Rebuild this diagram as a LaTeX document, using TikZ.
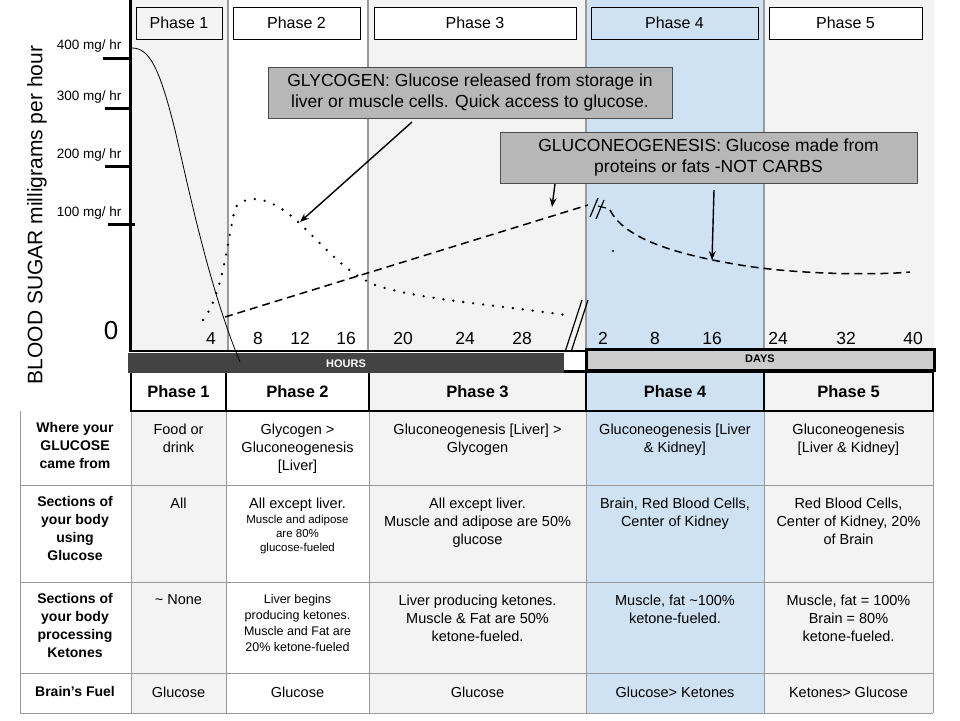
\documentclass[tikz,border=0pt]{standalone}
\usepackage{fontspec}
\setmainfont{Liberation Sans}
\usetikzlibrary{arrows.meta}
\definecolor{lg}{HTML}{F3F3F3}
\definecolor{lb}{HTML}{CFE2F3}
\definecolor{bx}{HTML}{B7B7B7}
\definecolor{dk}{HTML}{434343}
\definecolor{gl}{HTML}{999999}
\begin{document}
\begin{tikzpicture}[x=1pt,y=-1pt,
  ph/.style={draw=black,line width=0.8pt,minimum height=32pt,font=\fontsize{16}{16}\selectfont},
  cell/.style={align=center,anchor=north,font=\fontsize{14.5}{18}\selectfont},
  small/.style={align=center,anchor=north,font=\fontsize{12.5}{16}\selectfont},
  rowh/.style={align=center,anchor=north,font=\bfseries\fontsize{14}{18}\selectfont},
  hd/.style={font=\bfseries\fontsize{16.5}{16}\selectfont},
  note/.style={draw=black!70,fill=bx,align=center,font=\fontsize{17.5}{21}\selectfont,inner sep=4pt},
  arr/.style={-{Stealth[length=9pt,width=7pt]},line width=1.4pt},
  xt/.style={font=\fontsize{17.5}{17}\selectfont},
  yt/.style={font=\fontsize{13.5}{13}\selectfont,anchor=east}]
\useasboundingbox (0,0) rectangle (960,720);
\fill[white] (0,0) rectangle (960,720);
% chart backgrounds
\fill[lg] (130,0) rectangle (934,350);
\fill[white] (228,0) rectangle (368,350);
\fill[lb] (586,0) rectangle (764,350);
\foreach \x in {228,368,586,764} \draw[gl,line width=1.2pt] (\x,0) -- (\x,350);
% phase boxes
\node[ph,fill=lg,minimum width=86pt] (p1) at (179,23) {Phase 1};
\node[ph,fill=white,minimum width=127pt] (p2) at (296.5,23) {Phase 2};
\node[ph,fill=white,minimum width=202pt] (p3) at (475,23) {Phase 3};
\node[ph,fill=lb,minimum width=167pt] (p4) at (674.5,23) {Phase 4};
\node[ph,fill=white,minimum width=153pt] (p5) at (845.5,23) {Phase 5};
% table backgrounds
\fill[lg] (131,411) rectangle (226,713);
\fill[lg] (369,372) rectangle (586,713);
\fill[lb] (586,372) rectangle (764,713);
\fill[lg] (764,372) rectangle (933,713);
\foreach \y in {485,582,673,713} \draw[gl,line width=0.8pt] (20,\y) -- (933,\y);
\foreach \x in {131,226,369,586,764,933} \draw[gl,line width=0.8pt] (\x,411) -- (\x,713);
\draw[gl,line width=0.8pt] (20,411) -- (20,713);
\draw[black,line width=1.6pt] (131,372) rectangle (933,411);
\foreach \x in {226,369,586,764} \draw[black,line width=1.6pt] (\x,372) -- (\x,411);
% axes
\draw[line width=3pt] (130,0) -- (130,352);
\draw[line width=2.5pt] (130,351) -- (586,351);
\foreach \y/\a/\b in {58/103/130,108/105/130,166/105/130,224/108/135} \draw[line width=3pt] (\a,\y) -- (\b,\y);
\node[yt] (y400) at (125,46) {400 mg/ hr};
\node[yt] (y300) at (125,97) {300 mg/ hr};
\node[yt] (y200) at (125,155) {200 mg/ hr};
\node[yt] (y100) at (125,213) {100 mg/ hr};
\node[font=\fontsize{26}{26}\selectfont] (zero) at (111,331) {0};
\node[rotate=90,font=\fontsize{21}{21}\selectfont] (ylab) at (37,215) {BLOOD SUGAR milligrams per hour};
\foreach \x/\t in {211/4,258/8,300/12,346/16,403/20,465/24,522/28,603/2,655/8,712/16,778/24,846/32,913/40}
  \node[xt] (xt\x) at (\x,338) {\t};
% bars
\fill[dk] (128,353) rectangle (564,373);
\node[white,font=\bfseries\fontsize{11}{11}\selectfont] (hours) at (346,364) {HOURS};
\draw[line width=1.5pt] (564,371) -- (586,371);
\draw[fill=black!20,line width=3pt] (586,349) rectangle (934,370);
\node[font=\bfseries\fontsize{11}{11}\selectfont] (days) at (760,359) {DAYS};
% curves
\draw[line width=0.8pt] (132,48) .. controls (150,48) and (160,70) .. (175,130) .. controls (190,195) and (210,290) .. (240,362);
\draw[line width=2.6pt,dash pattern=on 0pt off 10pt,line cap=round] (203,320) .. controls (222,295) and (226,250) .. (235,208) .. controls (245,195) and (265,195) .. (290,215) .. controls (320,240) and (340,270) .. (375,285) .. controls (420,300) and (500,305) .. (572,316);
\draw[line width=1.5pt,dash pattern=on 8pt off 5pt] (225,317) -- (588,205);
\draw[line width=1.5pt,dash pattern=on 8pt off 5pt] (610,210) .. controls (625,240) and (680,255) .. (740,265) .. controls (800,275) and (880,275) .. (910,272);
\fill (613,251) circle (1.2pt);
\draw[line width=1.2pt] (590,217) -- (598,198) (596,219) -- (604,200) (598,206) -- (606,208);
\draw[line width=1.2pt] (565,352) -- (582,300) (571,352) -- (588,300);
% notes
\node[note,minimum width=404pt,minimum height=51pt] (gly) at (470,92.5) {GLYCOGEN: Glucose released from storage in\\liver or muscle cells. Quick access to glucose.};
\node[note,minimum width=417pt,minimum height=51pt] (gng) at (708.5,157.5) {GLUCONEOGENESIS: Glucose made from\\proteins or fats -NOT CARBS};
\coordinate (g1) at (300,222);
\coordinate (g2) at (552,207);
\coordinate (g3) at (712,260);
\draw[arr] (412,122) -- (g1);
\draw[arr] (555,184) -- (g2);
\draw[arr] (714,190) -- (g3);
% table header
\node[hd] (h1) at (178.5,391.5) {Phase 1};
\node[hd] (h2) at (297.5,391.5) {Phase 2};
\node[hd] (h3) at (477.5,391.5) {Phase 3};
\node[hd] (h4) at (675,391.5) {Phase 4};
\node[hd] (h5) at (848.5,391.5) {Phase 5};
% row labels
\node[rowh] (r1) at (75,419) {Where your\\GLUCOSE\\came from};
\node[rowh] (r2) at (75,493) {Sections of\\your body\\using\\Glucose};
\node[rowh] (r3) at (75,590) {Sections of\\your body\\processing\\Ketones};
\node[rowh] (r4) at (75,683) {Brain’s Fuel};
% row 1
\node[cell] (c11) at (178.5,420) {Food or\\drink};
\node[cell] (c12) at (297.5,420) {Glycogen >\\Gluconeogenesis\\{[Liver]}};
\node[cell] (c13) at (477.5,420) {Gluconeogenesis [Liver] >\\Glycogen};
\node[cell] (c14) at (675,420) {Gluconeogenesis [Liver\\\& Kidney]};
\node[cell] (c15) at (848.5,420) {Gluconeogenesis\\{[Liver \& Kidney]}};
% row 2
\node[cell] (c21) at (178.5,494) {All};
\node[align=center,anchor=north,font=\fontsize{11.5}{14}\selectfont] (c22) at (297.5,494) {{\fontsize{14.5}{14}\selectfont All except liver.}\\[1pt]Muscle and adipose\\are 80\%\\glucose-fueled};
\node[cell] (c23) at (477.5,494) {All except liver.\\Muscle and adipose are 50\%\\glucose};
\node[cell] (c24) at (675,494) {Brain, Red Blood Cells,\\Center of Kidney};
\node[cell] (c25) at (848.5,494) {Red Blood Cells,\\Center of Kidney, 20\%\\of Brain};
% row 3
\node[cell] (c31) at (178.5,591) {\textasciitilde{} None};
\node[small] (c32) at (297.5,591) {Liver begins\\producing ketones.\\Muscle and Fat are\\20\% ketone-fueled};
\node[cell] (c33) at (477.5,591) {Liver producing ketones.\\Muscle \& Fat are 50\%\\ketone-fueled.};
\node[cell] (c34) at (675,591) {Muscle, fat \textasciitilde100\%\\ketone-fueled.};
\node[cell] (c35) at (848.5,591) {Muscle, fat = 100\%\\Brain = 80\%\\ketone-fueled.};
% row 4
\node[cell] (c41) at (178.5,683) {Glucose};
\node[cell] (c42) at (297.5,683) {Glucose};
\node[cell] (c43) at (477.5,683) {Glucose};
\node[cell] (c44) at (675,683) {Glucose> Ketones};
\node[cell] (c45) at (848.5,683) {Ketones> Glucose};
\end{tikzpicture}
\end{document}
